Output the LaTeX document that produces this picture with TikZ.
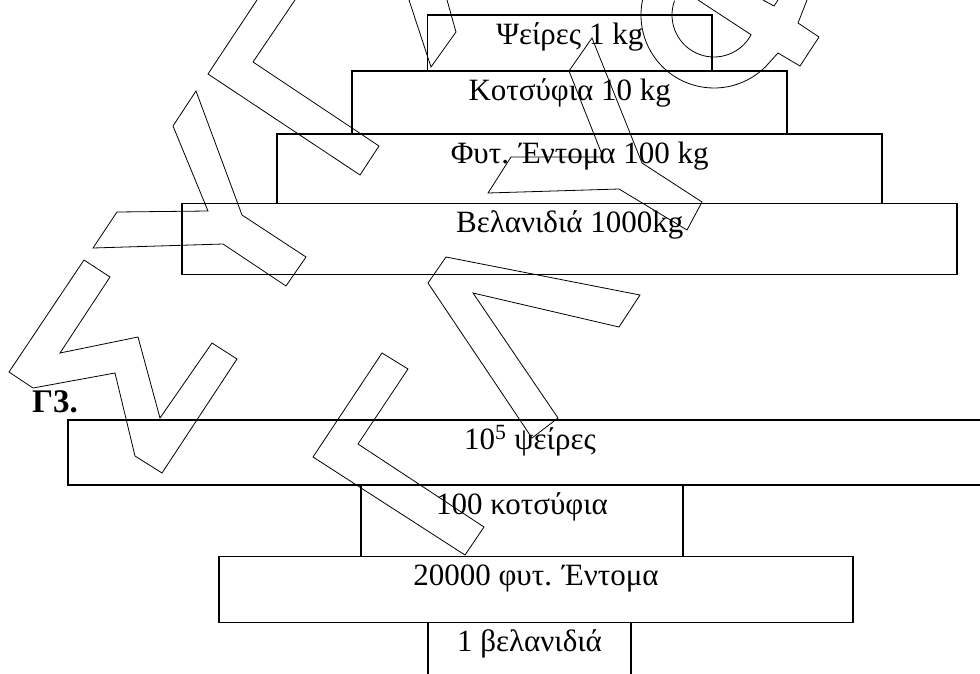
\documentclass[tikz,border=0pt]{standalone}
\usepackage{fontspec}
\setmainfont{Liberation Serif}
\usetikzlibrary{positioning}

\begin{document}
\begin{tikzpicture}[x=1pt,y=-1pt,
    tier/.style={draw,line width=1.6pt,inner sep=0pt,outer sep=0pt,
      text height=29pt,minimum width=#1,font=\fontsize{31}{36}\selectfont},
    wmark/.style={line width=0.8pt,line join=miter}]
      \useasboundingbox (0,0) rectangle (980,673);

      \node[tier=284.5pt,text depth=27pt,anchor=north] (1) at (569.75,15) {Ψείρες 1 kg};
      \node[tier=435pt,text depth=34pt,below=0pt of 1] (2) {Κοτσύφια 10 kg};
      \node[tier=605pt,text depth=40.5pt,below=0pt of 2,xshift=10pt] (3) {Φυτ. Έντομα 100 kg};
      \node[tier=775pt,text depth=42pt,below=0pt of 3,xshift=-10pt] (4) {Βελανιδιά 1000kg};

      \node[anchor=base west,inner sep=0pt,font=\fontsize{33}{38}\selectfont\bfseries] (9) at (32,412) {Γ3.};

      \node[tier=924pt,text depth=36pt,anchor=north] (5) at (530,420) {10\textsuperscript{5} ψείρες};
      \node[tier=322pt,text depth=42.5pt,below=0pt of 5,xshift=-8pt] (6) {100 κοτσύφια};
      \node[tier=634pt,text depth=37pt,below=0pt of 6,xshift=14pt] (7) {20000 φυτ. Έντομα};
      \node[tier=203pt,text depth=50pt,below=0pt of 7,xshift=-6.5pt] (8) {1 βελανιδιά};

      %% watermark
      \draw[wmark] (257,0) -- (208,74) -- (360,175) -- (379,146) -- (253,62) -- (295,0);
      \draw[wmark] (196,91) -- (173,126) -- (208,211) -- (117,212) -- (93,248) -- (223,244)
        -- (286,286) -- (306,257) -- (242,215) -- cycle;
      \draw[wmark] (84,260) -- (9,372) -- (33,388) -- (115,373) -- (135,456) -- (162,473)
        -- (237,359) -- (212,343) -- (160,418) -- (138,337) -- (60,353) -- (110,277) -- cycle;
      \draw[wmark] (382,353) -- (408,369) -- (358,444) -- (484,527) -- (465,555) -- (313,457) -- cycle;
      \draw[wmark] (446,257) -- (640,295) -- (619,327) -- (473,293) -- (558,418) -- (532,438)
        -- (428,283) -- cycle;
      \draw[wmark] (592,38) -- (569,71) -- (603,157) -- (511,157) -- (488,193) -- (619,189)
        -- (687,230) -- (702,202) -- (642,163) -- cycle;
      \draw[wmark] (409,0) -- (431,67) -- (456,32) -- (447,0);
      \draw[wmark] (714,15) ++(191.8:73) arc[start angle=191.8,end angle=45,radius=73]
        -- (778,53) -- (800,66) -- (819,37) -- (798,23) -- (807,0);
      \draw[wmark] (714,15) ++(200:42) arc[start angle=200,end angle=28,radius=42] -- (698,0);
      \draw[wmark] (763,0) -- (774,6) -- (778,0);
    \end{tikzpicture}
\end{document}
